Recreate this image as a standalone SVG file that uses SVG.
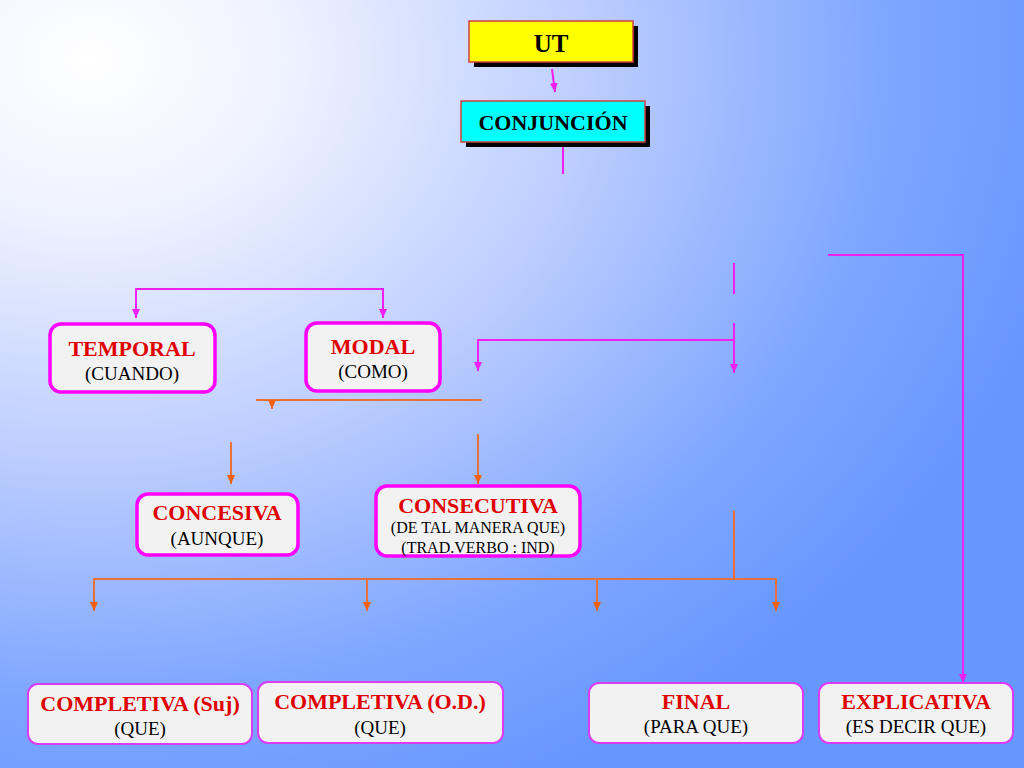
<svg xmlns="http://www.w3.org/2000/svg" width="1024" height="768" viewBox="0 0 1024 768">
<defs>
<radialGradient id="bg" gradientUnits="userSpaceOnUse" cx="90" cy="60" r="1000" gradientTransform="translate(90 60) scale(1 0.8) translate(-90 -60)">
<stop offset="0" stop-color="#ffffff"/>
<stop offset="0.2" stop-color="#eef2ff"/>
<stop offset="0.5" stop-color="#bccdff"/>
<stop offset="0.8" stop-color="#7ea6ff"/>
<stop offset="1" stop-color="#6697ff"/>
</radialGradient>
<marker id="ao" markerUnits="userSpaceOnUse" markerWidth="10" markerHeight="10" viewBox="0 0 10 10" refX="9" refY="5" orient="auto">
<path d="M0,1 L9,5 L0,9 Z" fill="#f06010"/>
</marker>
<marker id="am2" markerUnits="userSpaceOnUse" markerWidth="10" markerHeight="10" viewBox="0 0 10 10" refX="9" refY="5" orient="auto">
<path d="M0,1 L9,5 L0,9 Z" fill="#f020f0"/>
</marker>
</defs>
<style>
.t{font-family:"Liberation Serif","Times New Roman",serif;font-weight:bold;font-size:22px;fill:#e00000;text-anchor:middle}
.s{font-family:"Liberation Serif","Times New Roman",serif;font-size:19px;fill:#000;text-anchor:middle}
.ss{font-family:"Liberation Serif","Times New Roman",serif;font-size:16px;fill:#000;text-anchor:middle}
.hd{font-family:"Liberation Serif","Times New Roman",serif;font-weight:bold;fill:#000;text-anchor:middle}
.b1{fill:#f2f2f2;stroke:#ff00ff;stroke-width:3.5}
.b2{fill:#f2f2f2;stroke:#d93cf5;stroke-width:2}
.cm{stroke:#f020f0;stroke-width:2;fill:none}
.co{stroke:#e8703a;stroke-width:2;fill:none}
</style>
<rect width="1024" height="768" fill="url(#bg)"/>

<g id="connectors">
<path class="cm" d="M552,69 L555,92" marker-end="url(#am2)"/>
<path class="cm" d="M563,144 V174"/>
<path class="cm" d="M136,318 V289 H383 V318" marker-end="url(#am2)"/>
<path class="cm" d="M136,289 V318" marker-end="url(#am2)"/>
<path class="cm" d="M734,263 V294"/>
<path class="cm" d="M734,323 V373" marker-end="url(#am2)"/>
<path class="cm" d="M734,340 H478 V371" marker-end="url(#am2)"/>
<path class="cm" d="M828,255 H963 V683" marker-end="url(#am2)"/>
<path class="co" d="M256,400 H482"/>
<path class="co" d="M272,400 V409" marker-end="url(#ao)"/>
<path class="co" d="M231,442 V484" marker-end="url(#ao)"/>
<path class="co" d="M478,434 V484" marker-end="url(#ao)"/>
<path class="co" d="M734,511 V579"/>
<path class="co" d="M94,611 V579 H776 V611" marker-end="url(#ao)"/>
<path class="co" d="M94,579 V611" marker-end="url(#ao)"/>
<path class="co" d="M367,579 V611" marker-end="url(#ao)"/>
<path class="co" d="M597,579 V611" marker-end="url(#ao)"/>
</g>

<g id="ut">
<rect x="474" y="26" width="164" height="41" fill="#000"/>
<rect x="469" y="21" width="164" height="41" fill="#ffff00" stroke="#d04040" stroke-width="1.5"/>
<text class="hd" x="551" y="52" font-size="25">UT</text>
</g>
<g id="conjuncion">
<rect x="466" y="106" width="184" height="41" fill="#000"/>
<rect x="461" y="101" width="184" height="41" fill="#00ffff" stroke="#d04040" stroke-width="1.5"/>
<text class="hd" x="553" y="130" font-size="22">CONJUNCIÓN</text>
</g>

<g id="temporal">
<rect class="b1" x="50" y="324" width="165" height="68" rx="11"/>
<text class="t" x="132" y="356">TEMPORAL</text>
<text class="s" x="132" y="380">(CUANDO)</text>
</g>
<g id="modal">
<rect class="b1" x="306" y="323" width="134" height="68" rx="11"/>
<text class="t" x="373" y="354">MODAL</text>
<text class="s" x="373" y="378">(COMO)</text>
</g>
<g id="concesiva">
<rect class="b1" x="137" y="494" width="161" height="61" rx="11"/>
<text class="t" x="217" y="520">CONCESIVA</text>
<text class="s" x="217" y="545">(AUNQUE)</text>
</g>
<g id="consecutiva">
<rect class="b1" x="376" y="486" width="204" height="70" rx="11"/>
<text class="t" x="478" y="513">CONSECUTIVA</text>
<text class="ss" x="478" y="533">(DE TAL MANERA QUE)</text>
<text class="ss" x="478" y="553">(TRAD.VERBO : IND)</text>
</g>
<g id="completiva-suj">
<rect class="b2" x="28" y="684" width="224" height="60" rx="10"/>
<text class="t" x="140" y="711">COMPLETIVA (Suj)</text>
<text class="s" x="140" y="735">(QUE)</text>
</g>
<g id="completiva-od">
<rect class="b2" x="258" y="682" width="245" height="61" rx="10"/>
<text class="t" x="380" y="709">COMPLETIVA (O.D.)</text>
<text class="s" x="380" y="734">(QUE)</text>
</g>
<g id="final">
<rect class="b2" x="589" y="683" width="214" height="60" rx="10"/>
<text class="t" x="696" y="709">FINAL</text>
<text class="s" x="696" y="733">(PARA QUE)</text>
</g>
<g id="explicativa">
<rect class="b2" x="819" y="683" width="194" height="60" rx="10"/>
<text class="t" x="916" y="709">EXPLICATIVA</text>
<text class="s" x="916" y="733">(ES DECIR QUE)</text>
</g>
</svg>
